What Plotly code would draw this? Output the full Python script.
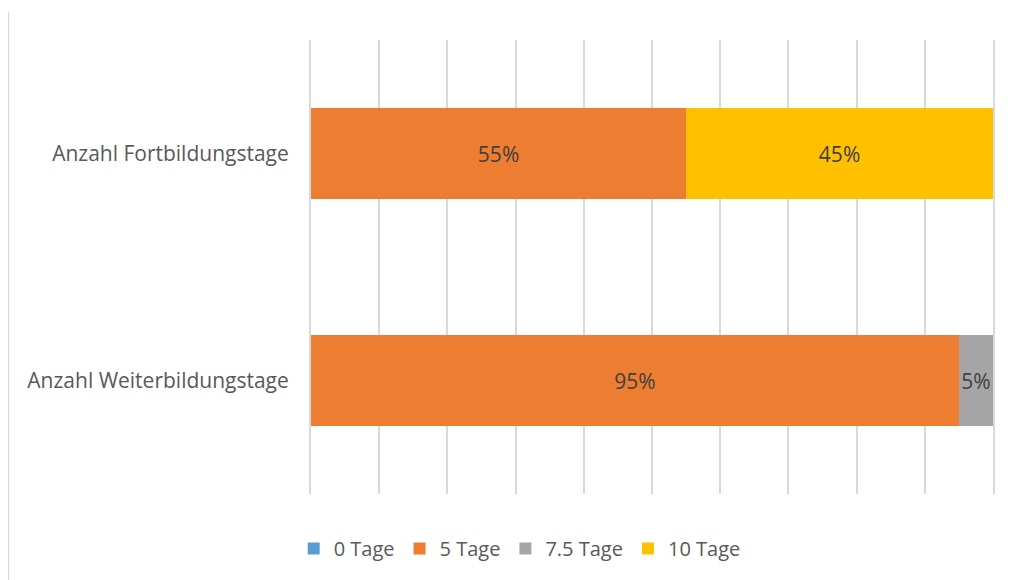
import plotly.graph_objects as go

categories = ['Anzahl Weiterbildungstage', 'Anzahl Fortbildungstage']
series_names = ['0 Tage', '5 Tage', '7.5 Tage', '10 Tage']
values_0 = [0, 0]
values_5 = [95, 55]
values_75 = [5, 0]
values_10 = [0, 45]

colors = ['#5B9BD5', '#ED7D31', '#A5A5A5', '#FFC000']

fig = go.Figure()

for name, vals, color in zip(series_names, [values_0, values_5, values_75, values_10], colors):
    fig.add_bar(
        x=vals,
        y=categories,
        orientation='h',
        name=name,
        marker=dict(color=color, line=dict(width=0)),
        text=[f'{v}%' if v > 0 else '' for v in vals],
        textposition='inside',
        insidetextanchor='middle',
        textangle=0,
        textfont=dict(color='#404040', size=21),
        hoverinfo='skip',
    )

# page body has an 8px margin, so the figure is shifted by 8px
fig.update_layout(
    width=1003,
    height=572,
    barmode='stack',
    bargap=0.6,
    paper_bgcolor='white',
    plot_bgcolor='white',
    margin=dict(l=303, r=18, t=32, b=86),
    font=dict(family='Open Sans', size=21, color='#595959'),
    uniformtext=dict(minsize=21, mode='show'),
    legend=dict(
        orientation='h',
        x=0.306,
        xanchor='center',
        y=-0.12,
        yanchor='middle',
        font=dict(size=20, color='#595959'),
        traceorder='normal',
        itemwidth=30,
    ),
    xaxis=dict(
        range=[0, 100],
        dtick=10,
        showticklabels=False,
        showgrid=True,
        gridcolor='#D9D9D9',
        gridwidth=2,
        zeroline=False,
        showline=False,
        fixedrange=True,
    ),
    yaxis=dict(
        showgrid=False,
        showline=True,
        mirror=True,
        linecolor='#D9D9D9',
        linewidth=2,
        ticks='',
        ticklabelstandoff=16,
        tickfont=dict(size=21, color='#595959'),
    ),
    shapes=[
        dict(type='line', xref='paper', yref='paper',
             x0=-0.444, x1=-0.444, y0=1.062, y1=-0.19,
             line=dict(color='#D9D9D9', width=2)),
    ],
)

fig.write_html('out.html')
